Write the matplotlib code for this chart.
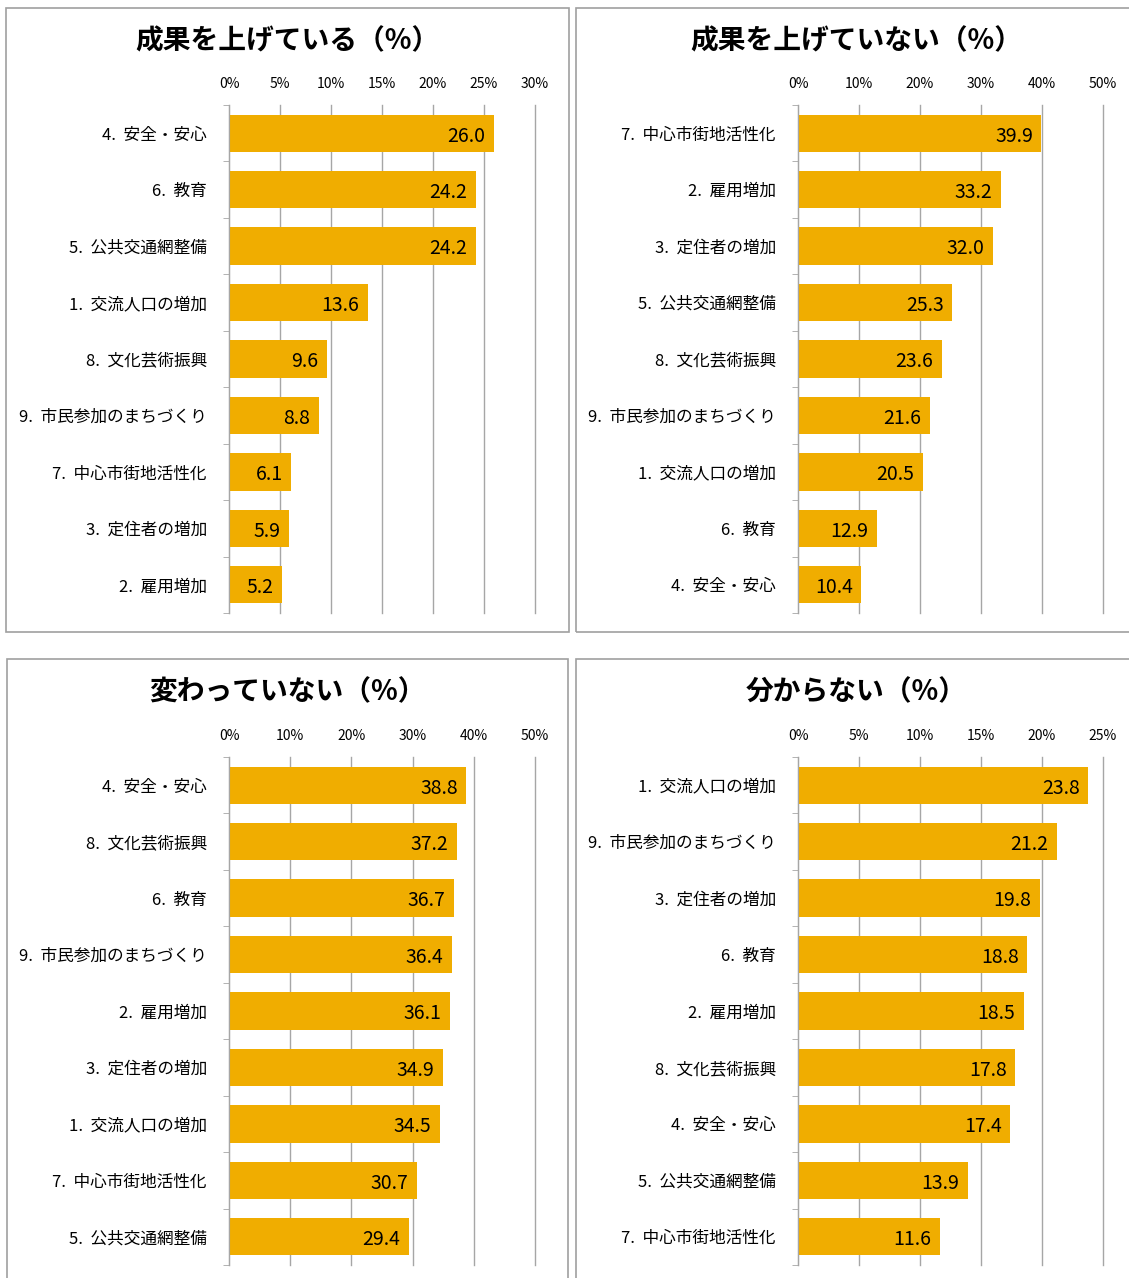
import matplotlib
matplotlib.use("Agg")
import matplotlib.pyplot as plt
from matplotlib.patches import Rectangle

plt.rcParams['font.family'] = ['Noto Sans CJK JP', 'DejaVu Sans']

# データ（上から順）
titles = ["成果を上げている（%）", "成果を上げていない（%）", "変わっていない（%）", "分からない（%）"]

cats_seika = ["4. 安全・安心", "6. 教育", "5. 公共交通網整備", "1. 交流人口の増加", "8. 文化芸術振興",
              "9. 市民参加のまちづくり", "7. 中心市街地活性化", "3. 定住者の増加", "2. 雇用増加"]
vals_seika = [26.0, 24.2, 24.2, 13.6, 9.6, 8.8, 6.1, 5.9, 5.2]

cats_nai = ["7. 中心市街地活性化", "2. 雇用増加", "3. 定住者の増加", "5. 公共交通網整備", "8. 文化芸術振興",
            "9. 市民参加のまちづくり", "1. 交流人口の増加", "6. 教育", "4. 安全・安心"]
vals_nai = [39.9, 33.2, 32.0, 25.3, 23.6, 21.6, 20.5, 12.9, 10.4]

cats_kawara = ["4. 安全・安心", "8. 文化芸術振興", "6. 教育", "9. 市民参加のまちづくり", "2. 雇用増加",
               "3. 定住者の増加", "1. 交流人口の増加", "7. 中心市街地活性化", "5. 公共交通網整備"]
vals_kawara = [38.8, 37.2, 36.7, 36.4, 36.1, 34.9, 34.5, 30.7, 29.4]

cats_wakara = ["1. 交流人口の増加", "9. 市民参加のまちづくり", "3. 定住者の増加", "6. 教育", "2. 雇用増加",
               "8. 文化芸術振興", "4. 安全・安心", "5. 公共交通網整備", "7. 中心市街地活性化"]
vals_wakara = [23.8, 21.2, 19.8, 18.8, 18.5, 17.8, 17.4, 13.9, 11.6]

xmax = [30, 50, 50, 25]
xstep = [5, 10, 10, 5]

W, H = 1129, 1278
fig = plt.figure(figsize=(W / 100, H / 100), dpi=100)

# パネル枠 (px)
boxes = [(6, 8, 563, 624), (576, 8, 560, 624), (7, 659, 561, 630), (576, 659, 560, 630)]
for (bx, by, bw, bh) in boxes:
    fig.patches.append(Rectangle((bx / W, 1 - (by + bh) / H), bw / W, bh / H,
                                 transform=fig.transFigure, fill=False,
                                 edgecolor="#a0a0a0", linewidth=1.2))

axpos = [(229, 105, 306, 508), (798, 105, 305, 508), (229, 757, 306, 508), (798, 757, 305, 508)]
titlepos = [(287, 41), (856, 41), (287, 692), (856, 692)]
data = [(cats_seika, vals_seika), (cats_nai, vals_nai), (cats_kawara, vals_kawara), (cats_wakara, vals_wakara)]

for i in range(4):
    ax_x, ax_y, ax_w, ax_h = axpos[i]
    ax = fig.add_axes([ax_x / W, 1 - (ax_y + ax_h) / H, ax_w / W, ax_h / H])
    cats, vals = data[i]
    y = list(range(len(cats)))
    ax.barh(y, vals, height=0.66, color="#F0AD00", zorder=2)
    ax.set_ylim(len(cats) - 0.5, -0.5)
    ax.set_xlim(0, xmax[i])
    ticks = list(range(0, xmax[i] + 1, xstep[i]))
    ax.set_xticks(ticks)
    ax.set_xticklabels([f"{t}%" for t in ticks], fontsize=10)
    ax.xaxis.tick_top()
    ax.tick_params(axis="x", length=0, pad=10)
    ax.grid(axis="x", color="#a6a6a6", linewidth=1.0, zorder=0)
    for gl in ax.get_xgridlines():
        gl.set_clip_on(False)
    ax.set_yticks(y)
    ax.set_yticklabels([c.replace(". ", ".  ") for c in cats], fontsize=12)
    ax.tick_params(axis="y", length=0, pad=16)
    ax.set_yticks([k - 0.5 for k in range(len(cats) + 1)], minor=True)
    ax.tick_params(axis="y", which="minor", length=4, color="#a6a6a6")
    for s in ["top", "right", "bottom"]:
        ax.spines[s].set_visible(False)
    ax.spines["left"].set_color("#a6a6a6")
    for yy, v in zip(y, vals):
        ax.text(v - xmax[i] * 0.028, yy + 0.05, f"{v:.1f}", ha="right", va="center",
                fontsize=14, color="black", zorder=3)
    tx, ty = titlepos[i]
    fig.text(tx / W, 1 - ty / H, titles[i], ha="center", va="center",
             fontsize=20, fontweight="bold")

fig.savefig("out.png", dpi=100)
